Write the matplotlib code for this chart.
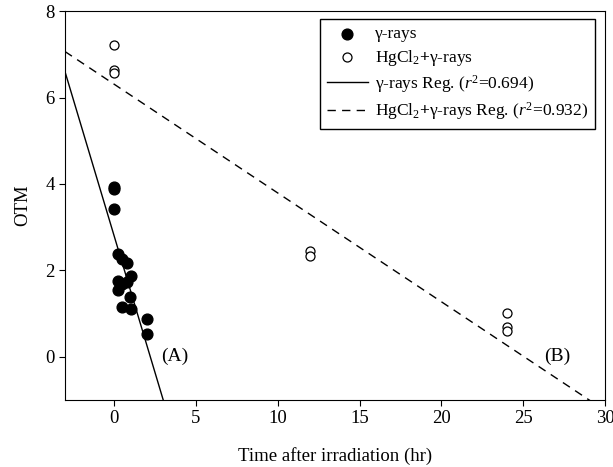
import matplotlib
matplotlib.use('Agg')
import matplotlib.pyplot as plt
import numpy as np

plt.rcParams['font.family'] = 'Liberation Serif'
plt.rcParams['mathtext.fontset'] = 'custom'
plt.rcParams['mathtext.rm'] = 'Liberation Serif'
plt.rcParams['mathtext.it'] = 'Liberation Serif:italic'
plt.rcParams['mathtext.bf'] = 'Liberation Serif:bold'

# gamma-rays only (filled circles)
g_time = [0, 0, 0, 0.25, 0.5, 0.8, 0.25, 0.25, 0.5, 0.8, 1.05, 1.0, 0.5, 1.05, 2.0, 2.0]
g_otm = [3.93, 3.88, 3.41, 2.37, 2.27, 2.16, 1.74, 1.55, 1.68, 1.72, 1.87, 1.37, 1.15, 1.10, 0.88, 0.52]

# HgCl2 + gamma-rays (open circles)
h_time = [0, 0, 0, 12, 12, 24, 24, 24]
h_otm = [7.22, 6.64, 6.58, 2.45, 2.32, 1.02, 0.68, 0.60]

# regression lines (intercept, slope)
g_reg = (2.80, -1.267)
h_reg = (6.31, -0.252)

xlim = (-3, 30)
ylim = (-1, 8)

fig = plt.figure(figsize=(6.13, 4.67), dpi=100)
ax = fig.add_axes([0.106, 0.144, 0.881, 0.832])

ax.scatter(g_time, g_otm, s=60, color='black', zorder=3, label='γ-rays')
ax.scatter(h_time, h_otm, s=42, facecolors='white', edgecolors='black', linewidths=0.9,
           zorder=3, label=r'HgCl$_2$$\mathbf{+}$γ-rays')

xx = np.array(xlim)
ax.plot(xx, g_reg[0] + g_reg[1] * xx, color='black', lw=1.0,
        label=r'γ-rays Reg. ($r^2$=0.694)')
ax.plot(xx, h_reg[0] + h_reg[1] * xx, color='black', lw=1.0, linestyle=(0, (6, 4.5)),
        label=r'HgCl$_2$$\mathbf{+}$γ-rays Reg. ($r^2$=0.932)')

ax.text(2.9, 0, '(A)', fontsize=14, va='center')
ax.text(26.3, 0, '(B)', fontsize=14, va='center')

ax.set_xlim(xlim)
ax.set_ylim(ylim)
ax.set_xticks([0, 5, 10, 15, 20, 25, 30])
ax.set_yticks([0, 2, 4, 6, 8])
ax.tick_params(labelsize=13.5, direction='out', length=4)
ax.set_xlabel('Time after irradiation (hr)', fontsize=13.5, labelpad=14)
ax.set_ylabel('OTM', fontsize=13.5, labelpad=10)

leg = ax.legend(loc='upper right', fontsize=12.5, frameon=True, fancybox=False,
                edgecolor='black', framealpha=1, handlelength=2.4, handletextpad=0.4,
                borderpad=0.4, borderaxespad=0, labelspacing=0.3,
                bbox_to_anchor=(0.982, 0.979))
leg.get_frame().set_linewidth(1.0)

plt.savefig('out.png', dpi=100)
